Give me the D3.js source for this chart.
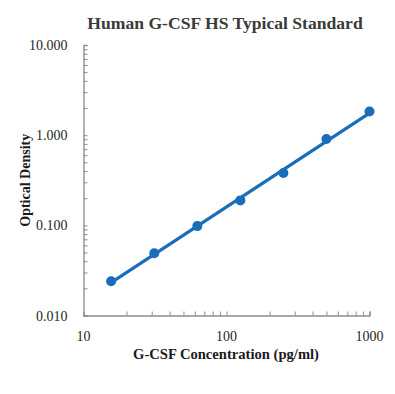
<!DOCTYPE html>
<html>
<head>
<meta charset="utf-8">
<script src="https://cdn.jsdelivr.net/npm/d3@7"></script>
<style>
  body { margin: 0; background: #fff; }
  text { font-family: "Liberation Serif", "Times New Roman", serif; }
</style>
</head>
<body>
<div id="vis"></div>
<script>
// ---------- DATA ----------
const concentration = [15.6, 31.25, 62.5, 125, 250, 500, 1000];
const od = [0.024, 0.049, 0.098, 0.189, 0.38, 0.905, 1.83];
const yTickValues = [0.01, 0.1, 1, 10];
const xTickValues = [10, 100, 1000];

// ---------- FRAME ----------
const FRAME_WIDTH = 395;
const FRAME_HEIGHT = 394;
const MARGINS = { left: 83.5, right: 25.5, top: 45, bottom: 78.5 };
const VIS_WIDTH = FRAME_WIDTH - MARGINS.left - MARGINS.right;
const VIS_HEIGHT = FRAME_HEIGHT - MARGINS.top - MARGINS.bottom;

const BLUE = "#1a6db8";
const AXIS_GRAY = "#8c8c8c";

const svg = d3.select("#vis")
  .append("svg")
  .attr("width", FRAME_WIDTH)
  .attr("height", FRAME_HEIGHT);

const xScale = d3.scaleLog().domain([10, 1000]).range([MARGINS.left, MARGINS.left + VIS_WIDTH]);
const yScale = d3.scaleLog().domain([0.01, 10]).range([MARGINS.top + VIS_HEIGHT, MARGINS.top]);

// minor ticks: 2..10 of each decade
function minorTicks(lo, hi) {
  const out = [];
  for (let d = lo; d < hi; d *= 10) {
    for (let m = 2; m <= 10; m++) out.push(d * m);
  }
  return out;
}

// ---------- AXES ----------
const xAxis = svg.append("g")
  .attr("transform", `translate(0,${MARGINS.top + VIS_HEIGHT})`)
  .call(d3.axisBottom(xScale).tickValues(minorTicks(10, 1000)).tickSize(-4).tickFormat(""));
const yAxis = svg.append("g")
  .attr("transform", `translate(${MARGINS.left},0)`)
  .call(d3.axisLeft(yScale).tickValues(minorTicks(0.01, 10)).tickSize(-4).tickFormat(""));

[xAxis, yAxis].forEach(ax => {
  ax.select(".domain").attr("stroke", AXIS_GRAY).attr("stroke-width", 1.3);
  ax.selectAll(".tick line").attr("stroke", AXIS_GRAY).attr("stroke-width", 1);
});

// tick labels
svg.append("g").selectAll("text")
  .data(yTickValues)
  .enter()
  .append("text")
  .attr("x", MARGINS.left - 16)
  .attr("y", d => yScale(d) + 5)
  .attr("text-anchor", "end")
  .attr("font-size", 14)
  .attr("fill", "#262626")
  .text(d => d.toFixed(3));

svg.append("g").selectAll("text")
  .data(xTickValues)
  .enter()
  .append("text")
  .attr("x", d => xScale(d))
  .attr("y", MARGINS.top + VIS_HEIGHT + 25)
  .attr("text-anchor", "middle")
  .attr("font-size", 14)
  .attr("fill", "#262626")
  .text(d => d);

// ---------- TITLES ----------
svg.append("text")
  .attr("x", 225)
  .attr("y", 29)
  .attr("text-anchor", "middle")
  .attr("font-size", 17.6)
  .attr("font-weight", "bold")
  .attr("fill", "#3a3a3a")
  .text("Human G-CSF HS Typical Standard");

svg.append("text")
  .attr("x", 226)
  .attr("y", 359)
  .attr("text-anchor", "middle")
  .attr("font-size", 14.6)
  .attr("font-weight", "bold")
  .attr("fill", "#1a1a1a")
  .text("G-CSF Concentration (pg/ml)");

svg.append("text")
  .attr("transform", `translate(30,${MARGINS.top + VIS_HEIGHT / 2}) rotate(-90)`)
  .attr("text-anchor", "middle")
  .attr("font-size", 14)
  .attr("font-weight", "bold")
  .attr("fill", "#1a1a1a")
  .text("Optical Density");

// ---------- TRENDLINE (power fit in log-log space) ----------
const lx = concentration.map(Math.log10);
const ly = od.map(Math.log10);
const mx = d3.mean(lx), my = d3.mean(ly);
const slope = d3.sum(lx.map((v, i) => (v - mx) * (ly[i] - my))) / d3.sum(lx.map(v => (v - mx) ** 2));
const intercept = my - slope * mx;
const fit = x => Math.pow(10, intercept + slope * Math.log10(x));
const xEnds = d3.extent(concentration);

svg.append("path")
  .datum(xEnds)
  .attr("fill", "none")
  .attr("stroke", BLUE)
  .attr("stroke-width", 3.2)
  .attr("stroke-linecap", "round")
  .attr("d", d3.line().x(d => xScale(d)).y(d => yScale(fit(d))));

// ---------- POINTS ----------
svg.append("g").selectAll("circle")
  .data(concentration)
  .enter()
  .append("circle")
  .attr("cx", d => xScale(d))
  .attr("cy", (d, i) => yScale(od[i]))
  .attr("r", 5)
  .attr("fill", BLUE);
</script>
</body>
</html>
